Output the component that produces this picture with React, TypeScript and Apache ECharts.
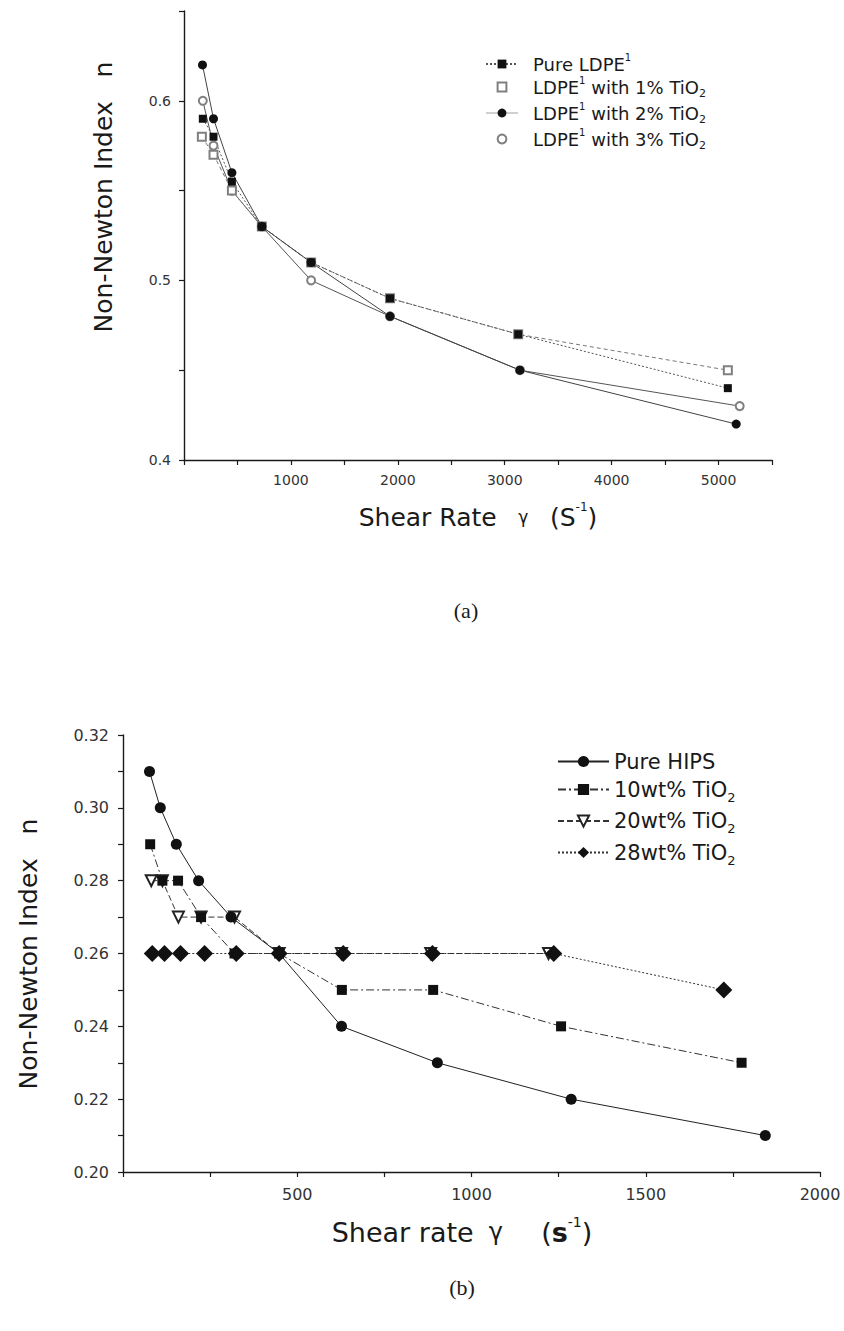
import React, { useEffect, useRef } from 'react';
import * as echarts from 'echarts';

const FONT = 'DejaVu Sans';
const SERIF = 'Liberation Serif';
const INK = '#1a1a1a';

// ---------- Panel (a) ----------
const aNames = ['Pure LDPE¹', 'LDPE¹ with 1% TiO₂', 'LDPE¹ with 2% TiO₂', 'LDPE¹ with 3% TiO₂'];
const aPureX = [176, 276, 448, 728, 1189, 1927, 3126, 5087];
const aPureY = [0.59, 0.58, 0.555, 0.53, 0.51, 0.49, 0.47, 0.44];
const a1X = [167, 276, 448, 728, 1189, 1927, 3126, 5087];
const a1Y = [0.58, 0.57, 0.55, 0.53, 0.51, 0.49, 0.47, 0.45];
const a2X = [173, 276, 448, 728, 1189, 1927, 3142, 5165];
const a2Y = [0.62, 0.59, 0.56, 0.53, 0.51, 0.48, 0.45, 0.42];
const a3X = [176, 276, 448, 728, 1189, 1927, 3142, 5198];
const a3Y = [0.6, 0.575, 0.55, 0.53, 0.5, 0.48, 0.45, 0.43];
const aXTicks = ['1000', '2000', '3000', '4000', '5000'];
const aYTicks = ['0.4', '0.5', '0.6'];

// ---------- Panel (b) ----------
const bNames = ['Pure HIPS', '10wt% TiO₂', '20wt% TiO₂', '28wt% TiO₂'];
const bPureX = [76, 107, 153, 217, 310, 448, 627, 902, 1286, 1843];
const bPureY = [0.31, 0.3, 0.29, 0.28, 0.27, 0.26, 0.24, 0.23, 0.22, 0.21];
const b10X = [78, 113, 158, 224, 320, 448, 628, 890, 1257, 1775];
const b10Y = [0.29, 0.28, 0.28, 0.27, 0.26, 0.26, 0.25, 0.25, 0.24, 0.23];
const b20X = [81, 113, 159, 224, 320, 448, 627, 883, 1221];
const b20Y = [0.28, 0.28, 0.27, 0.27, 0.27, 0.26, 0.26, 0.26, 0.26];
const b28X = [84, 119, 165, 234, 325, 448, 632, 888, 1236, 1724];
const b28Y = [0.26, 0.26, 0.26, 0.26, 0.26, 0.26, 0.26, 0.26, 0.26, 0.25];
const bXTicks = ['500', '1000', '1500', '2000'];
const bYTicks = ['0.20', '0.22', '0.24', '0.26', '0.28', '0.30', '0.32'];

const zip = (xs: number[], ys: number[]) => xs.map((x, i) => [x, ys[i]]);

const labelFrom = (labels: string[]) => (v: number) => {
  for (const l of labels) if (Math.abs(parseFloat(l) - v) < 1e-9) return l;
  return '';
};

const richName = (name: string) =>
  name
    .split(/([¹₂])/)
    .filter((p) => p.length > 0)
    .map((p) => (p === '¹' ? '{sup|1}' : p === '₂' ? '{sub|2}' : `{n|${p}}`))
    .join('');

const makeRich = (size: number, lh: number) => ({
  n: { fontFamily: FONT, fontSize: size, color: INK, lineHeight: lh, verticalAlign: 'middle' },
  sup: { fontFamily: FONT, fontSize: Math.round(size * 0.55), color: INK, lineHeight: Math.round(size * 0.6), verticalAlign: 'top' },
  sub: { fontFamily: FONT, fontSize: Math.round(size * 0.6), color: INK, lineHeight: Math.round(size * 0.6), verticalAlign: 'bottom' },
});

const axisCommon = {
  type: 'value' as const,
  axisLine: { onZero: false, lineStyle: { color: INK, width: 1.4 } },
  axisTick: { inside: false, length: 5, lineStyle: { color: INK, width: 1.2 } },
  splitLine: { show: false },
};

export default function App() {
  const ref = useRef<HTMLDivElement>(null);

  useEffect(() => {
    if (!ref.current) return;
    const chart = echarts.init(ref.current, undefined, { renderer: 'svg' });

    const lineSeries = (
      name: string, xi: number, data: number[][], symbol: string, size: any,
      color: string, lineColor: string, lineType: any, extra: any = {}
    ) => ({
      type: 'line',
      name,
      xAxisIndex: xi,
      yAxisIndex: xi,
      data,
      symbol,
      symbolSize: size,
      showAllSymbol: true,
      itemStyle: { color, borderWidth: symbol.startsWith('empty') ? 1.3 : 0 },
      lineStyle: { color: lineColor, width: 1, type: lineType },
      emphasis: { disabled: true },
      ...extra,
    });

    const option: any = {
      animation: false,
      backgroundColor: '#ffffff',
      grid: [
        { left: 184, top: 11, width: 588, height: 449 },
        { left: 123, top: 735, width: 697, height: 437 },
      ],
      xAxis: [
        {
          ...axisCommon, gridIndex: 0, min: 0, max: 5500, interval: 500,
          axisLabel: { formatter: labelFrom(aXTicks), fontFamily: FONT, fontSize: 14, color: '#333', margin: 13 },
        },
        {
          ...axisCommon, gridIndex: 1, min: 0, max: 2000, interval: 250,
          axisLabel: { formatter: labelFrom(bXTicks), fontFamily: FONT, fontSize: 16, color: '#333', margin: 14 },
        },
      ],
      yAxis: [
        {
          ...axisCommon, gridIndex: 0, min: 0.4, max: 0.65, interval: 0.05,
          axisLabel: { formatter: labelFrom(aYTicks), fontFamily: FONT, fontSize: 14, color: '#333', margin: 13 },
        },
        {
          ...axisCommon, gridIndex: 1, min: 0.2, max: 0.32, interval: 0.01,
          axisLabel: { formatter: labelFrom(bYTicks), fontFamily: FONT, fontSize: 16, color: '#333', margin: 14 },
        },
      ],
      legend: [
        {
          data: [
            { name: aNames[0] },
            { name: aNames[1], lineStyle: { opacity: 0 } },
            { name: aNames[2], lineStyle: { opacity: 0.25 } },
            { name: aNames[3], lineStyle: { opacity: 0 } },
          ],
          orient: 'vertical', left: 480, top: 47, itemWidth: 32, itemHeight: 11, itemGap: 2,
          formatter: (n: string) => richName(n),
          textStyle: { fontFamily: FONT, fontSize: 18, color: INK, padding: [0, 0, 0, 10], rich: makeRich(18, 24) },
          selectedMode: false,
        },
        {
          data: bNames,
          orient: 'vertical', left: 552, top: 746, itemWidth: 51, itemHeight: 14, itemGap: 7,
          formatter: (n: string) => richName(n),
          textStyle: { fontFamily: FONT, fontSize: 21, color: INK, rich: makeRich(21, 28) },
          selectedMode: false,
        },
      ],
      graphic: [
        {
          type: 'text', x: 103, y: 197, rotation: Math.PI / 2,
          style: { text: 'Non-Newton Index   n', fontFamily: FONT, fontSize: 25, fill: INK, align: 'center', verticalAlign: 'middle' },
        },
        {
          type: 'text', x: 478, y: 517,
          style: {
            text: '{t|Shear Rate}{g|    γ    }{t|(S}{s|-1}{t|)}',
            align: 'center', verticalAlign: 'middle',
            rich: {
              t: { fontFamily: FONT, fontSize: 25, fill: INK, lineHeight: 32, verticalAlign: 'middle' },
              g: { fontFamily: FONT, fontSize: 17, fill: INK, lineHeight: 32, verticalAlign: 'middle' },
              s: { fontFamily: FONT, fontSize: 12, fill: INK, lineHeight: 14, verticalAlign: 'top' },
            },
          },
        },
        {
          type: 'text', x: 466, y: 610,
          style: { text: '(a)', fontFamily: SERIF, fontSize: 22, fill: INK, align: 'center', verticalAlign: 'middle' },
        },
        {
          type: 'text', x: 28, y: 954, rotation: Math.PI / 2,
          style: { text: 'Non-Newton Index   n', fontFamily: FONT, fontSize: 25, fill: INK, align: 'center', verticalAlign: 'middle' },
        },
        {
          type: 'text', x: 462, y: 1232,
          style: {
            text: '{t|Shear rate}{g|  γ     }{t|(}{b|s}{s|-1}{t|)}',
            align: 'center', verticalAlign: 'middle',
            rich: {
              t: { fontFamily: FONT, fontSize: 27, fill: INK, lineHeight: 34, verticalAlign: 'middle' },
              b: { fontFamily: FONT, fontSize: 27, fontWeight: 'bold', fill: INK, lineHeight: 34, verticalAlign: 'middle' },
              g: { fontFamily: FONT, fontSize: 24, fill: INK, lineHeight: 34, verticalAlign: 'middle' },
              s: { fontFamily: FONT, fontSize: 14, fill: INK, lineHeight: 16, verticalAlign: 'top' },
            },
          },
        },
        {
          type: 'text', x: 462, y: 1287,
          style: { text: '(b)', fontFamily: SERIF, fontSize: 22, fill: INK, align: 'center', verticalAlign: 'middle' },
        },
      ],
      series: [
        lineSeries(aNames[3], 0, zip(a3X, a3Y), 'emptyCircle', 8, '#808080', '#555', 'solid'),
        lineSeries(aNames[1], 0, zip(a1X, a1Y), 'emptyRect', 8, '#808080', '#777', [4, 3]),
        lineSeries(aNames[0], 0, zip(aPureX, aPureY), 'rect', 8, '#111', '#555', [2, 2]),
        lineSeries(aNames[2], 0, zip(a2X, a2Y), 'circle', 9, '#111', '#444', 'solid'),

        lineSeries(bNames[2], 1, zip(b20X, b20Y), 'emptyTriangle', 11, '#222', '#333', [6, 3], { symbolRotate: 180 }),
        lineSeries(bNames[3], 1, zip(b28X, b28Y), 'diamond', [17, 17], '#111', '#333', [2, 2]),
        lineSeries(bNames[1], 1, zip(b10X, b10Y), 'rect', 10, '#111', '#333', [8, 3, 2, 3]),
        lineSeries(bNames[0], 1, zip(bPureX, bPureY), 'circle', 11, '#111', '#222', 'solid'),
      ],
    };

    chart.setOption(option);
    return () => chart.dispose();
  }, []);

  return (
    <div
      ref={ref}
      style={{ position: 'absolute', left: 0, top: 0, width: 844, height: 1331, background: '#fff' }}
    />
  );
}
